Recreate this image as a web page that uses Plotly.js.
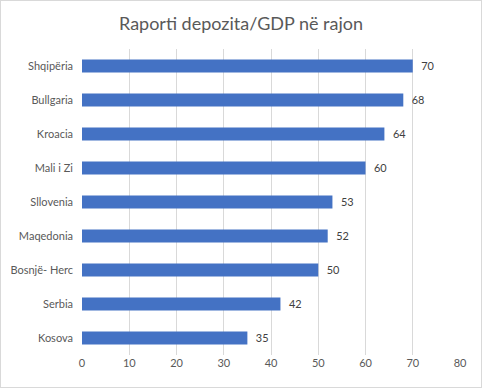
<!DOCTYPE html>
<html><head><meta charset="utf-8">
<script src="https://cdn.plot.ly/plotly-3.0.1.min.js"></script>
<style>html,body{margin:0;padding:0;background:#fff}#c{width:482px;height:388px;box-sizing:border-box;border:1px solid #d9d9d9}</style>
</head><body><div id="c"></div>
<script>
const categories = ["Shqipëria","Bullgaria","Kroacia","Mali i Zi","Sllovenia","Maqedonia","Bosnjë- Herc","Serbia","Kosova"];
const values = [70,68,64,60,53,52,50,42,35];
const xTicks = [0,10,20,30,40,50,60,70,80];
Plotly.newPlot('c',[{
  type:'bar',orientation:'h',
  y:categories,x:values,
  marker:{color:'#4472C4'},
  width:0.38,
  text:values.map(v=>'\u2002'+v),textposition:'outside',cliponaxis:false,
  textfont:{family:'Lato, sans-serif',size:11,color:'#404040'},
  hoverinfo:'none'
}],{
  width:480,height:386,
  margin:{l:81,r:21,t:48,b:32},
  paper_bgcolor:'#fff',plot_bgcolor:'#fff',
  font:{family:'Lato, sans-serif',color:'#595959'},
  title:{text:'Raporti depozita/GDP në rajon',font:{size:18,color:'#595959',family:'Lato, sans-serif'},x:0.5,xanchor:'center',y:0.94,yanchor:'middle'},
  xaxis:{range:[0,80],tickvals:xTicks,ticktext:xTicks.map(String),showgrid:true,gridcolor:'#d9d9d9',gridwidth:1,zeroline:false,showline:false,ticks:'',tickfont:{size:11,color:'#595959'},ticklen:0,fixedrange:true},
  yaxis:{autorange:'reversed',showgrid:false,showline:false,ticks:'',tickfont:{size:11,color:'#595959'},ticklabelstandoff:8,fixedrange:true},
  showlegend:false,bargap:0.62
},{displayModeBar:false,staticPlot:true});
</script></body></html>
